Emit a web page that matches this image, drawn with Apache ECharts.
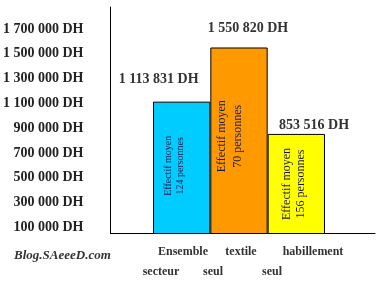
<!DOCTYPE html>
<html>
<head>
<meta charset="utf-8">
<script src="https://cdn.jsdelivr.net/npm/echarts@6/dist/echarts.min.js"></script>
<style>html,body{margin:0;padding:0;background:#fff;}#c{width:391px;height:281px;}</style>
</head>
<body>
<div id="c"></div>
<script>
const categories = ['Ensemble secteur', 'textile seul', 'habillement seul'];
const values = [1113831, 1550820, 853516];
const staff = [124, 70, 156];
const yTickLabels = [100000, 300000, 500000, 700000, 900000, 1100000, 1300000, 1500000, 1700000];

const barColors = ['#00CCFF', '#FF9900', '#FFFF00'];
const topOffsets = [[-23, -10.6], [9, -7], [17.7, 3]];
const innerFont = [10, 12, 12];
const innerLine = [12, 16, 14];
const innerOffsets = [[2, -7.7], [4.5, -9], [0, -2]];
const xShift = [[1.3, -20.7], [2, -26], [16.7, -24.3]];

const fmt = v => String(v).replace(/\B(?=(\d{3})+(?!\d))/g, ' ') + ' DH';
const serif = '"Liberation Serif", "Times New Roman", serif';

const rich = {};
xShift.forEach((s, i) => {
  rich['a' + i] = { fontFamily: serif, fontWeight: 'bold', fontSize: 12, color: '#333', lineHeight: 20,
    padding: s[0] >= 0 ? [0, 0, 0, 2 * s[0]] : [0, -2 * s[0], 0, 0] };
  rich['b' + i] = { fontFamily: serif, fontWeight: 'bold', fontSize: 12, color: '#333', lineHeight: 20,
    padding: s[1] >= 0 ? [0, 0, 0, 2 * s[1]] : [0, -2 * s[1], 0, 0] };
});

const yMin = 50000, yMax = 1877500;
const chart = echarts.init(document.getElementById('c'));
chart.setOption({
  animation: false,
  title: {
    text: 'Blog.SAeeeD.com', left: 9, top: 244,
    textStyle: { fontFamily: serif, fontWeight: 'bold', fontStyle: 'italic', fontSize: 13, color: '#333' }
  },
  grid: [
    { left: 153, right: 66, top: 7, bottom: 47.5 },
    { left: 110, right: 16, top: 7, bottom: 47.5 }
  ],
  xAxis: [
    { type: 'category', gridIndex: 0, data: categories,
      axisLine: { show: false }, axisTick: { show: false },
      axisLabel: { margin: 8, interval: 0,
        formatter: (v, i) => { const w = v.split(' '); return '{a' + i + '|' + w[0] + '}\n{b' + i + '|' + w[1] + '}'; },
        rich: rich } },
    { type: 'value', gridIndex: 1, min: 0, max: 1,
      axisLine: { show: true, onZero: false, lineStyle: { color: '#000', width: 1 } },
      axisTick: { show: false }, axisLabel: { show: false }, splitLine: { show: false } }
  ],
  yAxis: [
    { type: 'value', gridIndex: 0, min: yMin, max: yMax, interval: 50000, show: false, splitLine: { show: false } },
    { type: 'value', gridIndex: 1, min: yMin, max: yMax, interval: 50000,
      axisLine: { show: true, onZero: false, lineStyle: { color: '#000', width: 1 } },
      axisTick: { show: false }, splitLine: { show: false },
      axisLabel: { margin: 27, fontFamily: serif, fontWeight: 'bold', fontSize: 14, color: '#222',
        formatter: v => yTickLabels.indexOf(v) >= 0 ? fmt(v) : '' } }
  ],
  series: [
    { type: 'bar', xAxisIndex: 0, yAxisIndex: 0, barCategoryGap: '0%', barGap: '-100%',
      data: values.map((v, i) => ({
        value: v,
        itemStyle: { color: barColors[i], borderColor: '#000', borderWidth: 1 },
        label: { show: true, position: 'inside', rotate: 90, offset: innerOffsets[i],
          fontFamily: serif, fontSize: innerFont[i], lineHeight: innerLine[i], color: '#1a1a4a',
          formatter: 'Effectif moyen\n' + staff[i] + ' personnes' }
      })) },
    { type: 'bar', xAxisIndex: 0, yAxisIndex: 0, barCategoryGap: '0%', barGap: '-100%',
      itemStyle: { color: 'rgba(0,0,0,0)' },
      data: values.map((v, i) => ({
        value: v,
        label: { show: true, position: 'top', offset: topOffsets[i],
          fontFamily: serif, fontWeight: 'bold', fontSize: 14, color: '#333',
          formatter: p => fmt(p.value) }
      })) }
  ]
});
</script>
</body>
</html>
